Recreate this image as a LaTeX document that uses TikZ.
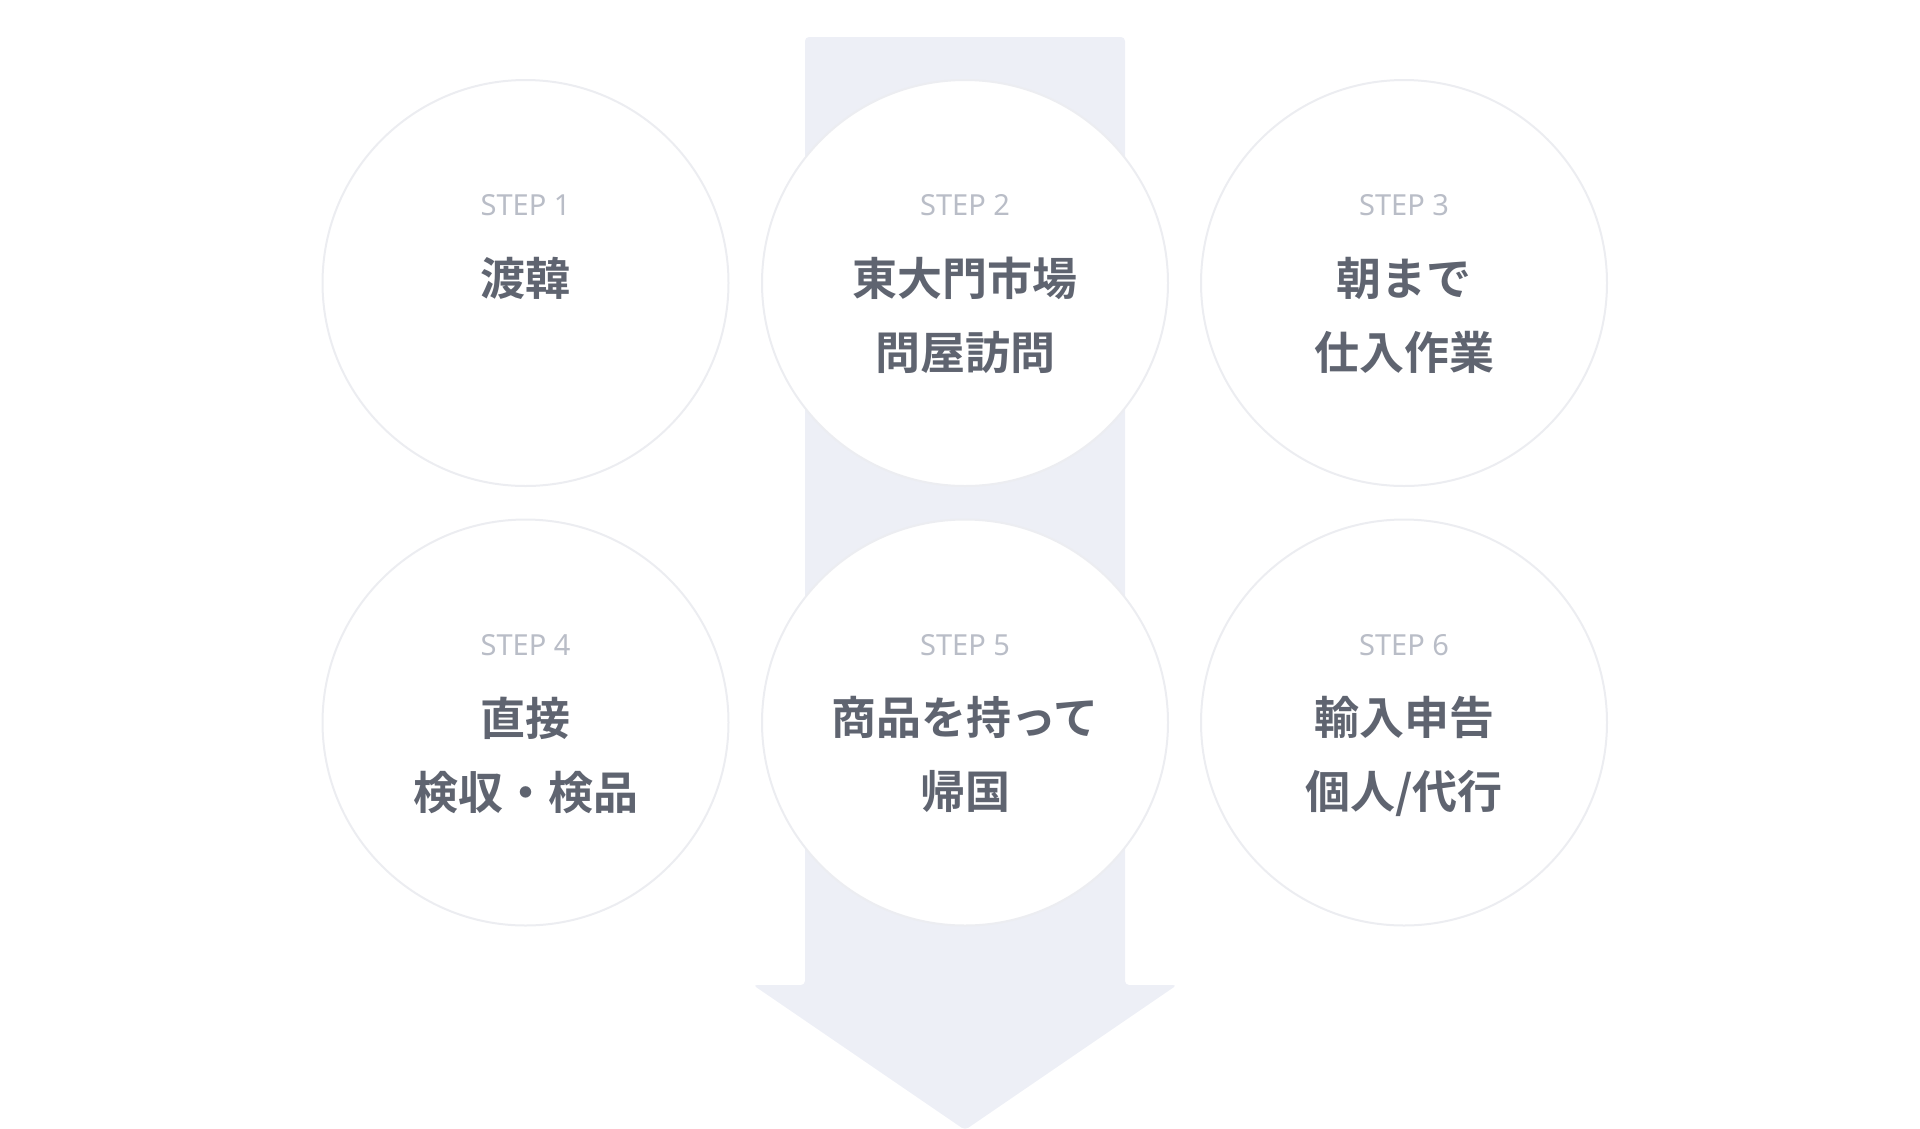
\documentclass[tikz,border=0pt]{standalone}
\usepackage{fontspec}
\newfontfamily\cjk{Noto Sans CJK JP}[BoldFont={* Bold}]
\newfontfamily\lat{Noto Sans}
\definecolor{arrowc}{HTML}{EDEFF6}
\definecolor{ringc}{HTML}{ECEDF1}
\definecolor{stepc}{HTML}{B9BDC7}
\definecolor{mainc}{HTML}{5F6470}
\tikzset{x=1pt,y=1pt,
 stepcircle/.style={circle,draw=ringc,line width=2pt,fill=white,minimum size=406pt,inner sep=0pt},
 steplabel/.style={text=stepc,font=\lat\bfseries\fontsize{29}{32}\selectfont,inner sep=0pt},
 maintext/.style={text=mainc,font=\cjk\bfseries\fontsize{45}{74}\selectfont,align=center,inner sep=0pt,anchor=north}}
\begin{document}
\begin{tikzpicture}
\useasboundingbox (0,0) rectangle (1920,-1128);
\fill[arrowc,rounded corners=4pt] (805,-37) -- (1125,-37) -- (1125,-985) -- (1177,-985) -- (965,-1130) -- (753,-985) -- (805,-985) -- cycle;
\foreach \n/\x/\y in {1/525.5/-283,2/965/-283,3/1404/-283,4/525.5/-722.5,5/965/-722.5,6/1404/-722.5}{
 \node[stepcircle] (c\n) at (\x,\y) {};
 \node[steplabel] (s\n) at (\x,\y+77.5) {STEP \n};
}
\node[maintext] (t1) at (525.5,-257) {渡韓};
\node[maintext] (t2) at (965,-257) {東大門市場\\問屋訪問};
\node[maintext] (t3) at (1404,-257) {朝まで\\仕入作業};
\node[maintext] (t4) at (525.5,-696.5) {直接\\検収・検品};
\node[maintext] (t5) at (965,-696.5) {商品を持って\\帰国};
\node[maintext] (t6) at (1404,-696.5) {輸入申告\\個人/代行};
\end{tikzpicture}
\end{document}
